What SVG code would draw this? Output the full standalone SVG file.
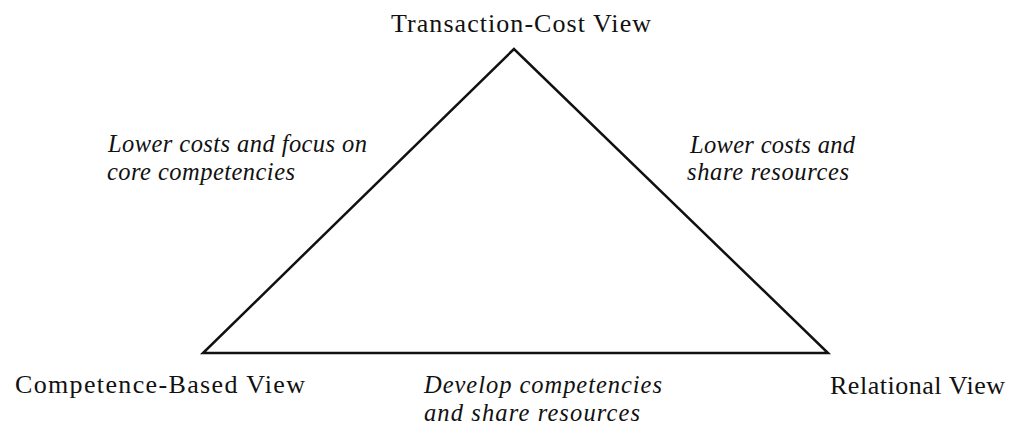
<svg xmlns="http://www.w3.org/2000/svg" width="1014" height="428" viewBox="0 0 1014 428">
<style>
.n{font-family:"Liberation Serif","Times New Roman",serif;font-size:26px;fill:#111}
.e{font-family:"Liberation Serif","Times New Roman",serif;font-size:24.5px;font-style:italic;fill:#111}
.l{fill:none;stroke:#111;stroke-width:2.5;stroke-linejoin:miter}
</style>
<rect width="1014" height="428" fill="#fff"/>
<g id="connectors">
<path class="l" d="M514,49 L203,353 L828,353 Z"/>
</g>
<g id="transaction-cost"><text class="n" x="391" y="32" textLength="260">Transaction-Cost View</text></g>
<g id="competence-based"><text class="n" x="15" y="393" textLength="290">Competence-Based View</text></g>
<g id="relational"><text class="n" x="830" y="394" textLength="175">Relational View</text></g>
<g id="label-left"><text class="e" x="108" y="152" textLength="259">Lower costs and focus on</text><text class="e" x="107" y="180" textLength="188">core competencies</text></g>
<g id="label-right"><text class="e" x="690" y="153" textLength="165">Lower costs and</text><text class="e" x="687" y="180" textLength="162">share resources</text></g>
<g id="label-bottom"><text class="e" x="424" y="393" textLength="238">Develop competencies</text><text class="e" x="424" y="421" textLength="216">and share resources</text></g>
</svg>
